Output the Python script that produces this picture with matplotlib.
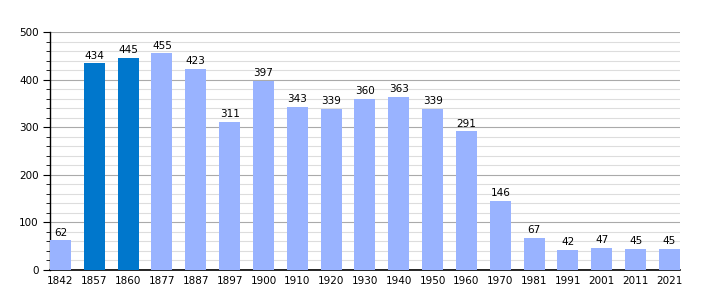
import numpy as np
import matplotlib.pyplot as plt
from matplotlib.ticker import MultipleLocator

years = ["1842", "1857", "1860", "1877", "1887", "1897", "1900", "1910", "1920", "1930",
         "1940", "1950", "1960", "1970", "1981", "1991", "2001", "2011", "2021"]
pop = [62, 434, 445, 455, 423, 311, 397, 343, 339, 360, 363, 339, 291, 146, 67, 42, 47, 45, 45]
highlight = ["1857", "1860"]

light = "#99b3ff"
dark = "#0077cc"
colors = [dark if y in highlight else light for y in years]

fig = plt.figure(figsize=(7.1, 3.0), dpi=100)
ax = fig.add_axes([0.0704, 0.1, 0.8873, 0.7933])

x = np.arange(len(years))
w = 0.62
ax.bar(x, pop, width=w, color=colors, zorder=3)
for xi, v in zip(x, pop):
    ax.text(xi, v + 6, str(v), ha="center", va="bottom", fontsize=7.5, zorder=4)

ax.set_xlim(-w / 2, len(years) - 1 + w / 2)
ax.set_ylim(0, 500)
ax.set_xticks(x)
ax.set_xticklabels(years, fontsize=7.5)
ax.tick_params(axis="x", length=0, pad=4)
ax.yaxis.set_major_locator(MultipleLocator(100))
ax.yaxis.set_minor_locator(MultipleLocator(20))
ax.tick_params(axis="y", which="major", length=5, labelsize=7.5, pad=3)
ax.tick_params(axis="y", which="minor", length=3)
ax.grid(axis="y", which="major", color="#aaaaaa", linewidth=0.8, zorder=0)
ax.grid(axis="y", which="minor", color="#dddddd", linewidth=0.8, zorder=0)

for s in ["top", "right"]:
    ax.spines[s].set_visible(False)
ax.spines["left"].set_linewidth(1.0)
ax.spines["bottom"].set_linewidth(1.2)

fig.savefig("out.png", dpi=100)
